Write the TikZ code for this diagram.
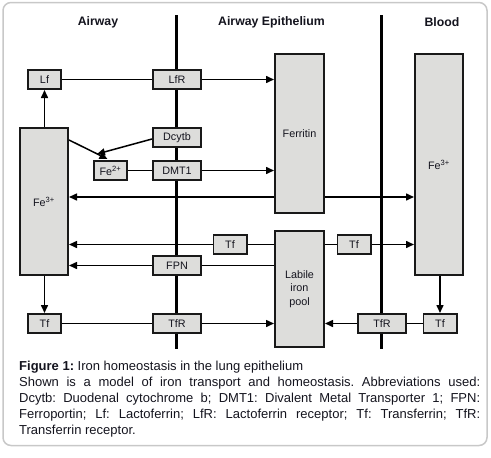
\documentclass[tikz,border=0pt]{standalone}
\usepackage{fontspec}
\setmainfont{Liberation Sans}
\usetikzlibrary{arrows.meta}
\pgfdeclarelayer{bg}
\pgfsetlayers{bg,main}
\definecolor{boxfill}{RGB}{221,221,219}
\definecolor{framecol}{RGB}{200,200,200}
\definecolor{txt}{RGB}{20,20,30}
\frenchspacing
\begin{document}
\begin{tikzpicture}[x=1pt,y=-1pt,
  box/.style={draw=black!90, fill=boxfill, line width=1.9pt, inner sep=0pt,
    font=\fontsize{10.8}{13.5}\selectfont, align=center, text=txt},
  sbox/.style={box, minimum width=33.1pt, minimum height=19.1pt},
  mbox/.style={box, minimum width=48.1pt, minimum height=19.1pt},
  conn/.style={line width=1.5pt},
  arr/.style={conn, -{Triangle[length=8pt,width=7pt]}},
  darr/.style={conn, {Triangle[length=8pt,width=7pt]}-{Triangle[length=8pt,width=7pt]}},
  memb/.style={line width=2.8pt},
  hdr/.style={font=\bfseries\fontsize{12.3}{14}\selectfont, text=txt, inner sep=0pt}]
\useasboundingbox (0,0) rectangle (491,458);
\draw[framecol, line width=1.5pt, rounded corners=8pt] (3,2.5) rectangle (487,445.5);

% headers
\node[hdr] (h1) at (98,22) {Airway};
\node[hdr] (h2) at (271.5,22) {Airway Epithelium};
\node[hdr] (h3) at (442,22) {Blood};

% membranes
\coordinate (m1t) at (176.5,15);
\coordinate (m1b) at (176.5,349);
\coordinate (m2t) at (381.5,15);
\coordinate (m2b) at (381.5,349);

% tall boxes
\node[box, minimum width=48.1pt, minimum height=147.1pt] (FeL) at (44,201.5) {Fe\textsuperscript{3+}};
\node[box, minimum width=49.1pt, minimum height=159.1pt] (Fer) at (299.5,133.5) {Ferritin};
\node[box, minimum width=48.1pt, minimum height=221.1pt] (FeB) at (439,164.5) {Fe\textsuperscript{3+}};
\node[box, minimum width=49.1pt, minimum height=116.1pt] (Lab) at (299.5,289) {Labile\\iron\\pool};

% small boxes
\node[sbox] (Lf) at (44.5,79.5) {Lf};
\node[mbox] (LfR) at (177,79.5) {LfR};
\node[mbox] (Dcytb) at (177,137.5) {Dcytb};
\node[mbox] (DMT) at (177,170.5) {DMT1};
\node[sbox] (Fe2) at (110.5,170.5) {Fe\textsuperscript{2+}};
\node[sbox] (TfM1) at (230,244.5) {Tf};
\node[sbox] (TfM2) at (354,244.5) {Tf};
\node[mbox] (FPN) at (177,265.5) {FPN};
\node[sbox] (TfL) at (44.5,323.5) {Tf};
\node[mbox] (TfR) at (177,323.5) {TfR};
\node[mbox] (TfR2) at (382,323.5) {TfR};
\node[sbox] (TfB) at (440,323.5) {Tf};

\coordinate (y197) at (0,197);

\begin{pgfonlayer}{bg}
  \draw[memb] (m1t) -- (m1b);
  \draw[memb] (m2t) -- (m2b);
  % lactoferrin route
  \draw[conn] (Lf) -- (LfR);
  \draw[arr] (LfR) -- (Fer.west |- LfR);
  \draw[arr] (Lf.south |- FeL.north) -- (Lf.south);
  % Fe2+
  \draw[arr] ([yshift=-13pt]FeL.north east) -- ([xshift=-3pt,yshift=1pt]Fe2.north);
  \draw[arr] ([yshift=-1.5pt]Dcytb.west) -- ([xshift=4pt,yshift=6pt]Fe2.north west);
  \draw[conn] (Fe2) -- (DMT);
  \draw[arr] (DMT) -- (Fer.west |- DMT);
  % ferritin exchange
  \draw[darr] (FeL.east |- y197) -- (FeB.west |- y197);
  % transferrin
  \draw[darr] (FeL.east |- TfM1) -- (FeB.west |- TfM1);
  \draw[arr] (Lab.west |- FPN) -- (FeL.east |- FPN);
  \draw[arr] (FeL.south -| TfL) -- (TfL.north);
  \draw[conn] (TfL) -- (TfR);
  \draw[arr] (TfR) -- (Lab.west |- TfR);
  \draw[arr] (TfR2) -- (Lab.east |- TfR2);
  \draw[conn] (TfR2) -- (TfB);
  \draw[arr] (FeB.south -| TfB) -- (TfB.north);
\end{pgfonlayer}

% caption
\node[anchor=north west, inner sep=0pt, text width=461pt, align=justify,
  font=\fontsize{13}{16}\selectfont\frenchspacing, text=txt] (cap) at (19,360.5)
  {{\bfseries Figure 1:} Iron homeostasis in the lung epithelium\\
  Shown is a model of iron transport and homeostasis. Abbreviations used:\linebreak
  Dcytb: Duodenal cytochrome b; DMT1: Divalent Metal Transporter 1; FPN:\linebreak
  Ferroportin; Lf: Lactoferrin; LfR: Lactoferrin receptor; Tf: Transferrin; TfR:\linebreak
  Transferrin receptor.};
\end{tikzpicture}
\end{document}
